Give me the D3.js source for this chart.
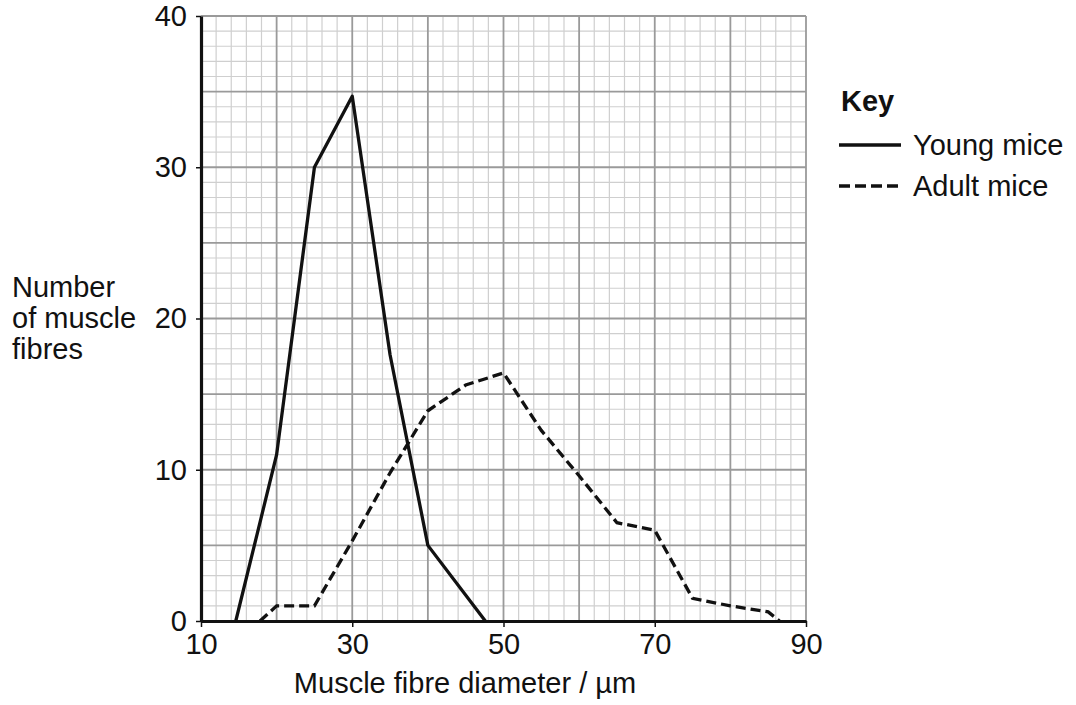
<!DOCTYPE html>
<html lang="en">
  <head>
    <meta charset="UTF-8" />
    <title>Muscle fibre diameter</title>
    <script src="https://d3js.org/d3.v7.min.js"></script>
    <style>
      body {
        margin: 0;
        background: #fff;
      }
      svg text {
        font-family: "Liberation Sans", Arial, sans-serif;
        fill: #111;
      }
      .axis text {
        font-size: 29px;
      }
      .axis path,
      .axis line {
        stroke: #111;
      }
      .minor {
        stroke: #cfcfcf;
        stroke-width: 1.2;
      }
      .major {
        stroke: #9a9a9a;
        stroke-width: 1.8;
      }
    </style>
  </head>
  <body>
    <div id="chart"></div>
    <script>
      // Young mice (solid line)
      const youngX = [14.6, 20, 25, 30, 35, 40, 47.6];
      const youngY = [0, 11, 30, 34.7, 17.6, 5, 0];

      // Adult mice (dashed line)
      const adultX = [17.8, 20, 25, 30, 35, 40, 45, 50, 55, 60, 65, 70, 75, 80, 85, 86.5];
      const adultY = [0, 1, 1, 5.3, 9.8, 13.9, 15.6, 16.4, 12.6, 9.6, 6.5, 6.0, 1.5, 1.0, 0.6, 0];

      const xTicks = [10, 30, 50, 70, 90];
      const yTicks = [0, 10, 20, 30, 40];

      const W = 1076,
        H = 705;
      const margin = { top: 16, right: 270, bottom: 84, left: 201 };

      const svg = d3
        .select("#chart")
        .append("svg")
        .attr("width", W)
        .attr("height", H);

      const x = d3.scaleLinear().domain([10, 90]).range([margin.left, W - margin.right]);
      const y = d3.scaleLinear().domain([0, 40]).range([H - margin.bottom, margin.top]);

      // grid paper
      const grid = svg.append("g");
      const xMinor = d3.range(10, 91, 2);
      const yMinor = d3.range(0, 41, 1);
      grid
        .selectAll(".vx")
        .data(xMinor)
        .join("line")
        .attr("class", (d) => (d % 10 === 0 ? "major" : "minor"))
        .attr("x1", (d) => x(d))
        .attr("x2", (d) => x(d))
        .attr("y1", y(0))
        .attr("y2", y(40));
      grid
        .selectAll(".hy")
        .data(yMinor)
        .join("line")
        .attr("class", (d) => (d % 5 === 0 ? "major" : "minor"))
        .attr("x1", x(10))
        .attr("x2", x(90))
        .attr("y1", (d) => y(d))
        .attr("y2", (d) => y(d));
      // put major lines on top of minor ones
      grid.selectAll(".major").raise();

      // axes
      const xAxis = svg
        .append("g")
        .attr("class", "axis")
        .attr("transform", `translate(0,${y(0)})`)
        .call(d3.axisBottom(x).tickValues(xTicks).tickSize(6).tickSizeOuter(0));
      xAxis.select(".domain").attr("stroke-width", 3.2);
      xAxis.selectAll(".tick line").attr("stroke-width", 1.5);
      xAxis.selectAll(".tick text").attr("y", 33).attr("dy", 0);

      const yAxis = svg
        .append("g")
        .attr("class", "axis")
        .attr("transform", `translate(${x(10)},0)`)
        .call(d3.axisLeft(y).tickValues(yTicks).tickSize(5).tickSizeOuter(0));
      yAxis.select(".domain").attr("stroke-width", 3.2);
      yAxis.selectAll(".tick line").attr("stroke-width", 1.5);
      yAxis.selectAll(".tick text").attr("x", -14);

      // data lines
      const line = d3
        .line()
        .x((d) => x(d[0]))
        .y((d) => y(d[1]));

      svg
        .append("path")
        .datum(d3.zip(youngX, youngY))
        .attr("fill", "none")
        .attr("stroke", "#111")
        .attr("stroke-width", 3.3)
        .attr("stroke-linejoin", "round")
        .attr("d", line);

      svg
        .append("path")
        .datum(d3.zip(adultX, adultY))
        .attr("fill", "none")
        .attr("stroke", "#111")
        .attr("stroke-width", 3.3)
        .attr("stroke-dasharray", "10,5")
        .attr("d", line);

      // axis titles
      svg
        .append("text")
        .attr("x", 465)
        .attr("y", 693)
        .attr("text-anchor", "middle")
        .style("font-size", "29px")
        .text("Muscle fibre diameter / µm");

      const yTitle = ["Number", "of muscle", "fibres"];
      svg
        .selectAll(".ytitle")
        .data(yTitle)
        .join("text")
        .attr("x", 12)
        .attr("y", (d, i) => 297 + i * 31)
        .style("font-size", "29px")
        .text((d) => d);

      // key
      const key = svg.append("g");
      key
        .append("text")
        .attr("x", 841)
        .attr("y", 111)
        .style("font-size", "29px")
        .style("font-weight", "bold")
        .text("Key");
      const keyItems = [
        { label: "Young mice", dash: null },
        { label: "Adult mice", dash: "11,5" },
      ];
      keyItems.forEach((k, i) => {
        const yy = 145 + i * 41;
        key
          .append("line")
          .attr("x1", 839)
          .attr("x2", 901)
          .attr("y1", yy)
          .attr("y2", yy)
          .attr("stroke", "#111")
          .attr("stroke-width", 3.3)
          .attr("stroke-dasharray", k.dash);
        key
          .append("text")
          .attr("x", 913)
          .attr("y", yy + 10)
          .style("font-size", "29px")
          .text(k.label);
      });
    </script>
  </body>
</html>
